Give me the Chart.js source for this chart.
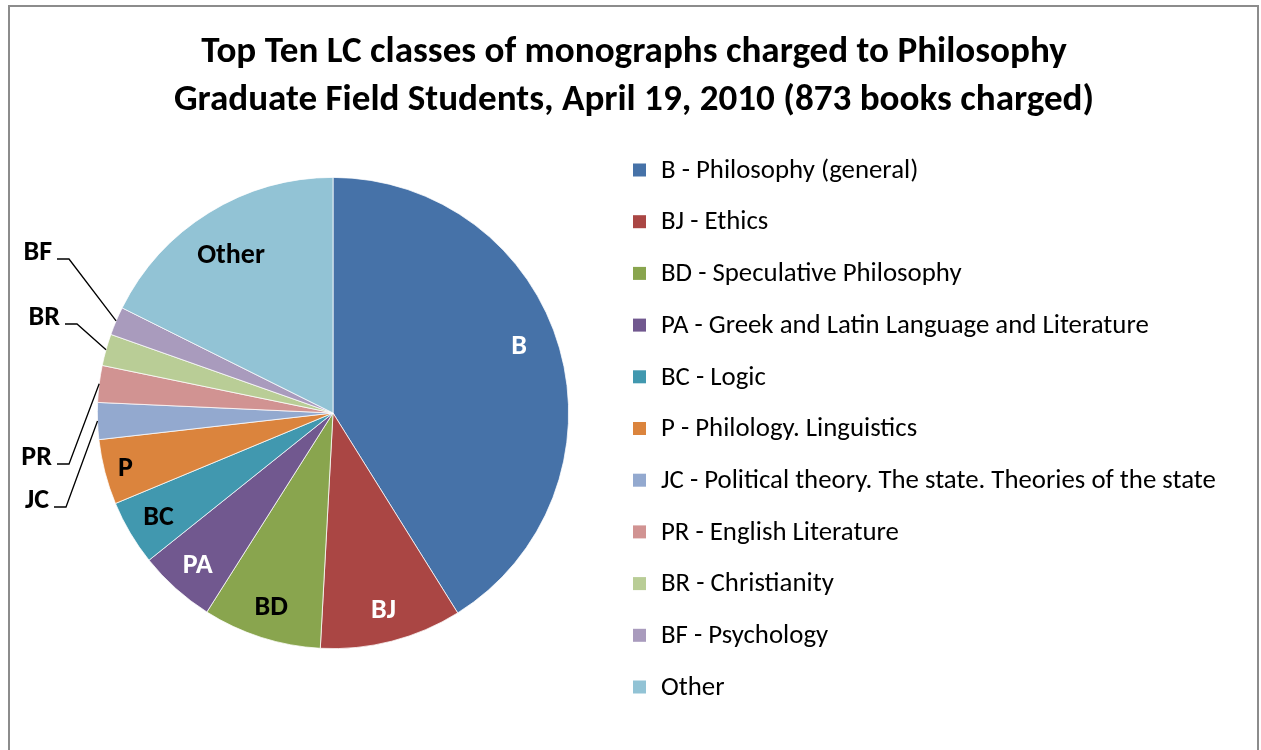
<!DOCTYPE html>
<html>
<head>
<meta charset="utf-8">
<script src="https://cdn.jsdelivr.net/npm/chart.js@4.4.0/dist/chart.umd.min.js"></script>
<style>
    html, body { margin: 0; padding: 0; background: #ffffff; }
    canvas { display: block; }
</style>
</head>
<body>
<canvas id="chartClases" width="1261" height="750"></canvas>
<script>
// Datos (873 libros en total)
const clases = ['B', 'BJ', 'BD', 'PA', 'BC', 'P', 'JC', 'PR', 'BR', 'BF', 'Other'];
const descripciones = [
    'B - Philosophy (general)',
    'BJ - Ethics',
    'BD - Speculative Philosophy',
    'PA - Greek and Latin Language and Literature',
    'BC - Logic',
    'P - Philology. Linguistics',
    'JC - Political theory. The state. Theories of the state',
    'PR - English Literature',
    'BR - Christianity',
    'BF - Psychology',
    'Other'
];
const librosPrestados = [359, 85, 71, 46, 39, 39, 22, 22, 19, 17, 154];
const colores = ['#4672A8', '#AA4644', '#89A54E', '#71588F', '#4198AF', '#DB843D',
                 '#93A9CF', '#D19392', '#B9CD96', '#A99BBD', '#92C3D5'];
const tituloLineas = [
    'Top Ten LC classes of monographs charged to Philosophy',
    'Graduate Field Students, April 19, 2010 (873 books charged)'
];

const fuente = 'Carlito, Calibri, Lato, "Liberation Sans", sans-serif';
const textoBlanco = ['B', 'BJ', 'PA'];
// posicion de las etiquetas interiores: fraccion del radio y giro en grados
const ajusteEtiqueta = {
    B: { r: 0.84, giro: -4 },
    P: { r: 0.91, giro: 0 },
    Other: { r: 0.80, giro: -1 }
};
// etiquetas fuera del pastel: codo de la linea guia respecto al centro
const guiasExternas = {
    BF: { dx: -264, dy: -154 },
    BR: { dx: -256, dy: -89 },
    PR: { dx: -264, dy: 51 },
    JC: { dx: -267, dy: 94 }
};

function tamanoParaAncho(ctx, texto, peso, anchoObjetivo) {
    ctx.font = `${peso} 100px ${fuente}`;
    return 100 * anchoObjetivo / ctx.measureText(texto).width;
}

const marcoYTitulo = {
    id: 'marcoYTitulo',
    beforeDraw(chart) {
        const ctx = chart.ctx;
        ctx.save();
        ctx.fillStyle = '#ffffff';
        ctx.fillRect(0, 0, chart.width, chart.height);
        ctx.strokeStyle = '#8c8c8c';
        ctx.lineWidth = 2;
        ctx.strokeRect(9, 6, chart.width - 12, chart.height + 10);

        const t = tamanoParaAncho(ctx, tituloLineas[0], 'bold', 866);
        ctx.font = `bold ${t}px ${fuente}`;
        ctx.fillStyle = '#000000';
        ctx.textAlign = 'center';
        ctx.textBaseline = 'alphabetic';
        ctx.fillText(tituloLineas[0], 634, 62);
        ctx.fillText(tituloLineas[1], 634, 110);
        ctx.restore();
    },
    afterDraw(chart) {
        // leyenda a la derecha
        const ctx = chart.ctx;
        ctx.save();
        const t = tamanoParaAncho(ctx, descripciones[6], 'normal', 555);
        ctx.font = `${t}px ${fuente}`;
        ctx.textAlign = 'left';
        ctx.textBaseline = 'middle';
        descripciones.forEach((d, i) => {
            const y = 170 + i * 51.7;
            ctx.fillStyle = colores[i];
            ctx.fillRect(633, y - 6.5, 13, 13);
            ctx.fillStyle = '#000000';
            ctx.fillText(d, 661, y + 1);
        });
        ctx.restore();
    }
};

const etiquetas = {
    id: 'etiquetas',
    afterDatasetsDraw(chart) {
        const ctx = chart.ctx;
        const arcos = chart.getDatasetMeta(0).data;
        ctx.save();
        ctx.font = `bold 28px ${fuente}`;
        arcos.forEach((arco, i) => {
            const p = arco.getProps(['x', 'y', 'startAngle', 'endAngle', 'outerRadius'], true);
            const medio = (p.startAngle + p.endAngle) / 2;
            const guia = guiasExternas[clases[i]];
            if (guia) {
                const bx = p.x + Math.cos(medio) * p.outerRadius;
                const by = p.y + Math.sin(medio) * p.outerRadius;
                const ex = p.x + guia.dx, ey = p.y + guia.dy;
                ctx.strokeStyle = '#000000';
                ctx.lineWidth = 1.3;
                ctx.beginPath();
                ctx.moveTo(bx, by);
                ctx.lineTo(ex, ey);
                ctx.lineTo(ex - 12, ey);
                ctx.stroke();
                ctx.fillStyle = '#000000';
                ctx.textAlign = 'right';
                ctx.textBaseline = 'alphabetic';
                ctx.fillText(clases[i], ex - 17, ey + 1);
            } else {
                const aj = ajusteEtiqueta[clases[i]] || { r: 0.86, giro: 0 };
                const ang = medio + aj.giro * Math.PI / 180;
                const r = p.outerRadius * aj.r;
                ctx.fillStyle = textoBlanco.includes(clases[i]) ? '#ffffff' : '#000000';
                ctx.textAlign = 'center';
                ctx.textBaseline = 'alphabetic';
                ctx.fillText(clases[i], p.x + Math.cos(ang) * r, p.y + Math.sin(ang) * r + 9);
            }
        });
        ctx.restore();
    }
};

const ctxClases = document.getElementById('chartClases').getContext('2d');
new Chart(ctxClases, {
    type: 'pie',
    data: {
        labels: clases,
        datasets: [{
            data: librosPrestados,
            backgroundColor: colores,
            borderColor: '#ffffff',
            borderWidth: 0.75
        }]
    },
    options: {
        responsive: false,
        animation: false,
        devicePixelRatio: 1,
        layout: { padding: { left: 97, right: 692, top: 177, bottom: 101 } },
        plugins: {
            legend: { display: false },
            title: { display: false },
            tooltip: { enabled: false }
        }
    },
    plugins: [marcoYTitulo, etiquetas]
});
</script>
</body>
</html>
